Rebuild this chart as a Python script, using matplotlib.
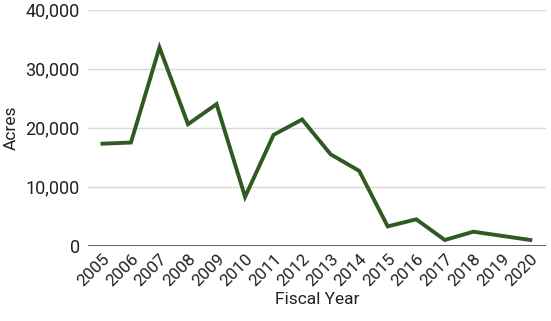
import matplotlib.pyplot as plt
from matplotlib.ticker import FuncFormatter

years = list(range(2005, 2021))
acres = [17300, 17500, 33600, 20600, 24000, 8300, 18800, 21400,
         15500, 12700, 3300, 4500, 1000, 2400, 1700, 1000]

plt.rcParams['font.family'] = ['Roboto', 'DejaVu Sans']

fig = plt.figure(figsize=(5.51, 3.21), dpi=100)
ax = fig.add_axes([0.16, 0.234, 0.831, 0.736])

ax.plot(years, acres, color='#2f5a22', linewidth=2.8, solid_joinstyle='miter', zorder=3)

ax.set_ylim(0, 40000)
ax.set_xlim(2004.5, 2020.55)
ax.set_yticks([0, 10000, 20000, 30000, 40000])
ax.yaxis.set_major_formatter(FuncFormatter(lambda v, p: f'{int(v):,}'))
ax.set_xticks(years)
ax.set_xticklabels([str(y) for y in years], rotation=45, ha='right',
                   rotation_mode='anchor')

ax.grid(axis='y', color='#d9d9d9', linewidth=1)
ax.axhline(0, color='#444444', linewidth=1.2, zorder=2)
for s in ax.spines.values():
    s.set_visible(False)
ax.tick_params(axis='both', length=0, colors='#222222')
ax.tick_params(axis='y', labelsize=13, pad=6)
ax.tick_params(axis='x', labelsize=12.3, pad=4)

ax.set_xlabel('Fiscal Year', fontsize=12.5, color='#222222', labelpad=2)
ax.set_ylabel('Acres', fontsize=12.5, color='#222222', labelpad=5)

fig.savefig('out.png', dpi=100)
